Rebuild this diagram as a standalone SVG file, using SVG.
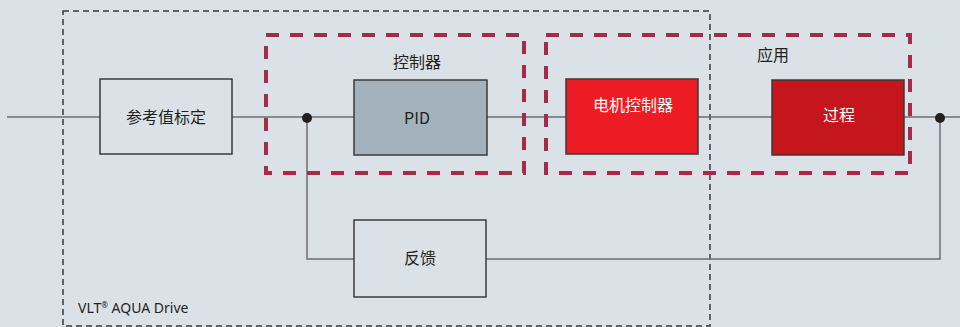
<svg xmlns="http://www.w3.org/2000/svg" width="960" height="327" viewBox="0 0 960 327">
<style>
.bg{fill:#dae1e7}
.line{fill:none;stroke:#6d6e70;stroke-width:1.5}
.box{stroke:#3a3a3a;stroke-width:1.5}
.t{font-family:"Noto Sans CJK SC","Noto Sans",sans-serif;font-size:16px;text-anchor:middle;fill:#231f20}
.w{fill:#ffffff}
.grp{fill:none;stroke:#a82a4b;stroke-width:4;stroke-dasharray:13 11}
.drive{fill:none;stroke:#3a3a3a;stroke-width:1.5;stroke-dasharray:6 4}
.dot{fill:#231f20}
</style>
<rect class="bg" x="0" y="0" width="960" height="327"/>
<g id="drive-boundary">
<rect class="drive" x="63" y="11" width="647" height="315"/>
<text x="78" y="313" style="font-family:'Noto Sans','Open Sans',sans-serif;font-size:14px;fill:#231f20">VLT<tspan font-size="8" dy="-5">®</tspan><tspan dy="5"> AQUA Drive</tspan></text>
</g>
<g id="connectors">
<path class="line" d="M7 117 H100 M232 117 H354 M487 117 H566 M698 117 H772 M904 117 H960"/>
<path class="line" d="M307 117 V259 H354 M486 259 H940 V117"/>
<circle class="dot" cx="307" cy="118" r="5"/>
<circle class="dot" cx="940" cy="118" r="5"/>
</g>
<g id="controller-group">
<rect class="grp" x="266" y="35" width="258" height="138"/>
<text class="t" x="417" y="68">控制器</text>
</g>
<g id="application-group">
<rect class="grp" x="546" y="35" width="364" height="138"/>
<text class="t" x="773" y="61">应用</text>
</g>
<g id="reference-scaling">
<rect class="box" x="100" y="79" width="132" height="75" fill="#dae1e7"/>
<text class="t" x="166" y="123">参考值标定</text>
</g>
<g id="pid">
<rect class="box" x="354" y="80" width="133" height="75" fill="#a3b2bc"/>
<text class="t" x="417" y="124">PID</text>
</g>
<g id="motor-controller">
<rect class="box" x="566" y="79" width="132" height="75" fill="#ed1c24"/>
<text class="t w" x="633" y="111">电机控制器</text>
</g>
<g id="process">
<rect class="box" x="772" y="80" width="132" height="75" fill="#c4161c"/>
<text class="t w" x="839" y="121">过程</text>
</g>
<g id="feedback">
<rect class="box" x="354" y="220" width="132" height="77" fill="#dae1e7"/>
<text class="t" x="420" y="264">反馈</text>
</g>
</svg>
